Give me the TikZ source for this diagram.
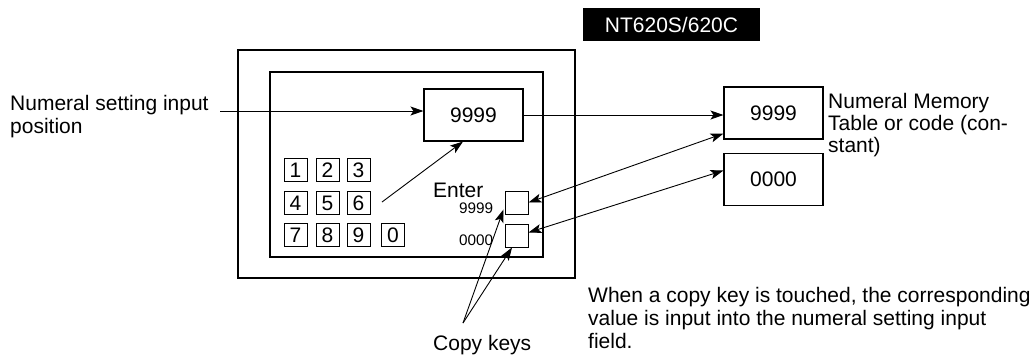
\documentclass[tikz,border=0pt]{standalone}
\usepackage{fontspec}
\setmainfont{Liberation Sans}
\usetikzlibrary{arrows.meta}
\begin{document}
\begin{tikzpicture}[x=1pt,y=-1pt,
  every node/.style={font=\fontsize{21}{23}\selectfont},
  txt/.style={anchor=base west,inner sep=0pt},
  small/.style={anchor=base west,inner sep=0pt,font=\fontsize{15.3}{17}\selectfont},
  frame/.style={draw,line width=1.1pt},
  valbox/.style={draw,line width=1.1pt,minimum width=99pt,minimum height=52pt,inner sep=0pt},
  keybox/.style={draw,line width=1pt,minimum width=23pt,minimum height=23pt,inner sep=0pt},
  conn/.style={line width=0.9pt},
  tip/.style={-{Stealth[length=13pt,width=9pt,inset=3pt]}},
  tips/.style={{Stealth[length=13pt,width=9pt,inset=3pt]}-{Stealth[length=13pt,width=9pt,inset=3pt]}}
]
\useasboundingbox (0,0) rectangle (1034,357);
% title
\node[fill=black,text=white,minimum width=177pt,minimum height=33pt,inner sep=0pt] (title) at (671.5,24.5) {NT620S/620C};
% terminal frames
\draw[frame] (238,50) rectangle (575,278);
\draw[frame] (270,72) rectangle (543,257);
% display
\node[valbox] (disp) at (473.5,115) {9999};
% keypad
\node[keybox] (k1) at (295.5,170) {1};
\node[keybox] (k2) at (327.5,170) {2};
\node[keybox] (k3) at (358.5,170) {3};
\node[keybox] (k4) at (295.5,203) {4};
\node[keybox] (k5) at (327.5,203) {5};
\node[keybox] (k6) at (358.5,203) {6};
\node[keybox] (k7) at (295.5,235) {7};
\node[keybox] (k8) at (327.5,235) {8};
\node[keybox] (k9) at (358.5,235) {9};
\node[keybox] (k0) at (393,235) {0};
% copy keys
\node[txt] (enter) at (433,197) {Enter};
\node[small] (s9) at (459,213) {9999};
\node[small] (s0) at (459,245) {0000};
\node[keybox] (ck1) at (516.5,202.5) {};
\node[keybox] (ck2) at (516.5,235.5) {};
% memory table
\node[valbox] (mem1) at (773.5,113) {9999};
\node[valbox] (mem2) at (773.5,179.5) {0000};
\node[txt] (memlbla) at (828,108) {Numeral Memory};
\node[txt] (memlblb) at (828,130) {Table or code (con-};
\node[txt] (memlblc) at (828,152) {stant)};
% labels
\node[txt] (poslbla) at (10,110) {Numeral setting input};
\node[txt] (poslblb) at (10,133) {position};
\coordinate (src) at (220,111);
\node[txt] (copylbl) at (433,350) {Copy keys};
\coordinate (cpt) at (463,323);
\coordinate (kpt) at (382,202);
\node[txt] (notea) at (588,302) {When a copy key is touched, the corresponding};
\node[txt] (noteb) at (588,325) {value is input into the numeral setting input};
\node[txt] (notec) at (588,348) {field.};
% connectors
\draw[conn,tip] (src) -- (src -| disp.west);
\draw[conn,tip] (disp.east) -- (disp.east -| mem1.west);
\draw[conn,tip] (kpt) -- ([xshift=-10.5pt]disp.south);
\draw[conn,tips] (ck1.east) -- ([yshift=6pt]mem1.south west);
\draw[conn,tips] ([yshift=3pt]ck2.east) -- ([yshift=9pt]mem2.west);
\draw[conn,tip] (cpt) -- ([xshift=-1pt,yshift=5pt]ck1.south west);
\draw[conn,tip] (cpt) -- ([xshift=-4.5pt]ck2.south);
\end{tikzpicture}
\end{document}
